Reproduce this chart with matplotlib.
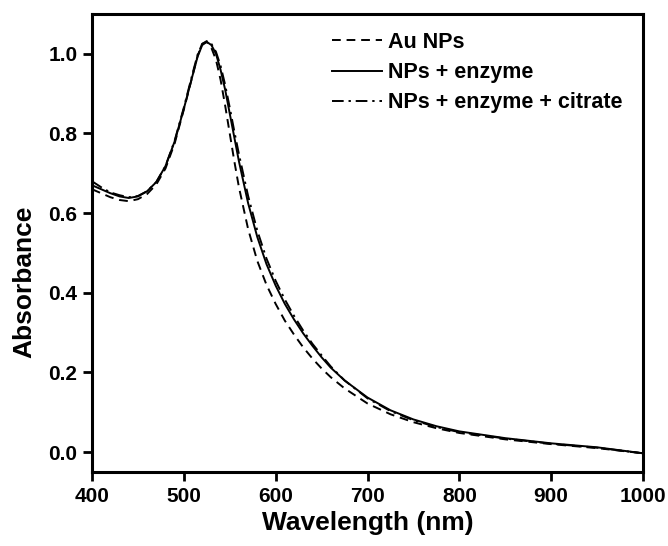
import numpy as np
import matplotlib.pyplot as plt

# wavelength (nm) and absorbance
wl = [400, 410, 420, 430, 440, 450, 460, 470, 480, 490, 500, 510, 515, 520, 525,
      530, 535, 540, 545, 550, 555, 560, 570, 580, 590, 600, 610, 620, 630, 640,
      650, 660, 675, 700, 725, 750, 775, 800, 850, 900, 950, 1000]

au_nps = [0.660, 0.650, 0.640, 0.633, 0.630, 0.635, 0.648, 0.672, 0.712, 0.775,
          0.860, 0.950, 0.995, 1.025, 1.030, 1.015, 0.985, 0.935, 0.870, 0.800,
          0.730, 0.665, 0.560, 0.480, 0.420, 0.372, 0.330, 0.295, 0.263, 0.235,
          0.210, 0.188, 0.160, 0.122, 0.095, 0.075, 0.060, 0.048, 0.032, 0.020,
          0.010, -0.003]

nps_enzyme = [0.670, 0.660, 0.650, 0.642, 0.638, 0.642, 0.655, 0.678, 0.718, 0.780,
              0.862, 0.950, 0.993, 1.022, 1.030, 1.022, 1.000, 0.960, 0.910, 0.850,
              0.790, 0.730, 0.625, 0.540, 0.472, 0.418, 0.372, 0.333, 0.298, 0.267,
              0.238, 0.212, 0.180, 0.137, 0.105, 0.082, 0.065, 0.052, 0.035, 0.022,
              0.012, -0.003]

nps_enzyme_citrate = [0.680, 0.665, 0.652, 0.645, 0.640, 0.643, 0.655, 0.678, 0.718, 0.782,
                      0.865, 0.955, 0.998, 1.025, 1.032, 1.025, 1.005, 0.970, 0.922, 0.865,
                      0.805, 0.748, 0.643, 0.556, 0.486, 0.430, 0.383, 0.342, 0.305, 0.272,
                      0.243, 0.215, 0.180, 0.135, 0.103, 0.080, 0.063, 0.050, 0.034, 0.021,
                      0.011, -0.003]

plt.rcParams['font.family'] = ['Liberation Sans', 'DejaVu Sans']
plt.rcParams['font.weight'] = 'bold'

fig = plt.figure(figsize=(6.68, 5.46), dpi=100)
ax = fig.add_axes([92 / 668, 1 - 472 / 546, (643 - 92) / 668, (472 - 14) / 546])

ax.plot(wl, au_nps, color='black', linestyle=(0, (4.5, 3)), linewidth=1.4, label='Au NPs')
ax.plot(wl, nps_enzyme, color='black', linestyle='-', linewidth=1.4, label='NPs + enzyme')
ax.plot(wl, nps_enzyme_citrate, color='black', linestyle=(0, (6, 2.5, 1.2, 2.5)), linewidth=1.4,
        label='NPs + enzyme + citrate')

ax.set_xlim(400, 1000)
ax.set_ylim(-0.05, 1.1)
ax.set_xticks(np.arange(400, 1001, 100))
ax.set_yticks(np.arange(0, 1.01, 0.2))
ax.yaxis.set_major_formatter(plt.FormatStrFormatter('%.1f'))

for s in ax.spines.values():
    s.set_linewidth(2.2)
ax.tick_params(direction='out', length=6.5, width=2, labelsize=15, pad=4)
ax.tick_params(top=False, right=False)

ax.set_xlabel('Wavelength (nm)', fontsize=19, fontweight='bold', labelpad=4)
# y label sits a bit below the middle of the axis in the original
fig.text(24 / 668, 1 - 282 / 546, 'Absorbance', rotation=90, fontsize=19, fontweight='bold',
         ha='center', va='center')

ax.legend(loc='upper left', bbox_to_anchor=(332 / 668, 1 - 32 / 546), bbox_transform=fig.transFigure,
          frameon=False, fontsize=15.5, handlelength=2.3, handletextpad=0.28, labelspacing=0.42,
          borderaxespad=0, borderpad=0)

plt.savefig('out.png', dpi=100)
plt.close()
